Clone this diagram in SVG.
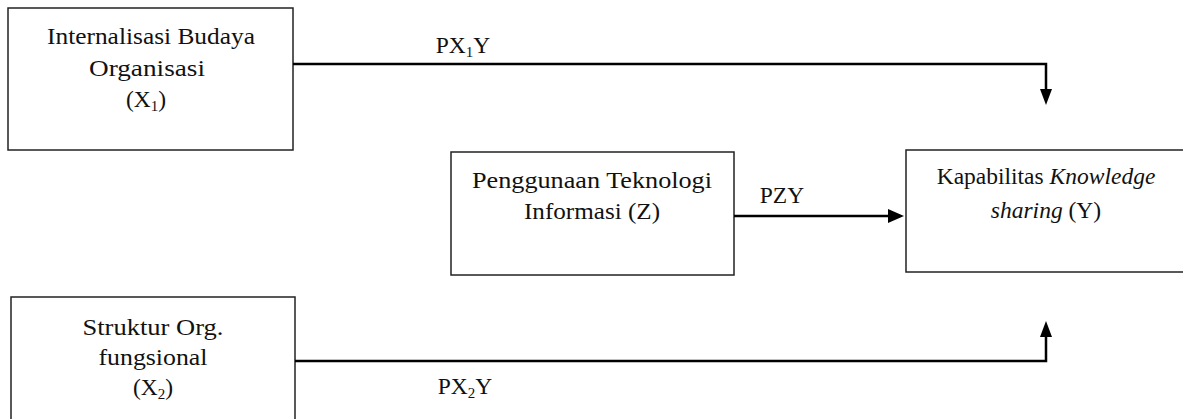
<svg xmlns="http://www.w3.org/2000/svg" width="1183" height="419" viewBox="0 0 1183 419">
  <style>
    .box { fill: #ffffff; stroke: #222222; stroke-width: 1.5; }
    .lbl { font-family: "Liberation Serif", "DejaVu Serif", serif; font-size: 23.5px; fill: #111111; text-anchor: middle; }
    .edge { fill: none; stroke: #000000; stroke-width: 2.5; }
    .sub { font-size: 15px; }
    .it { font-style: italic; }
  </style>

  <rect width="1183" height="419" fill="#ffffff"/>

  <!-- Independent variable X1 -->
  <g id="node-x1">
    <rect class="box" x="8" y="8" width="285" height="142"/>
    <text class="lbl" x="151" y="44" textLength="208" lengthAdjust="spacingAndGlyphs">Internalisasi Budaya</text>
    <text class="lbl" x="147" y="76" textLength="116" lengthAdjust="spacingAndGlyphs">Organisasi</text>
    <text class="lbl" x="146" y="107">(X<tspan class="sub" dy="4">1</tspan><tspan dy="-4">)</tspan></text>
  </g>

  <!-- Independent variable X2 -->
  <g id="node-x2">
    <rect class="box" x="11" y="297" width="284" height="140"/>
    <text class="lbl" x="153" y="335" textLength="141" lengthAdjust="spacingAndGlyphs">Struktur Org.</text>
    <text class="lbl" x="153" y="365" textLength="109" lengthAdjust="spacingAndGlyphs">fungsional</text>
    <text class="lbl" x="153" y="395">(X<tspan class="sub" dy="4">2</tspan><tspan dy="-4">)</tspan></text>
  </g>

  <!-- Intervening variable Z -->
  <g id="node-z">
    <rect class="box" x="451" y="152" width="283" height="123"/>
    <text class="lbl" x="592" y="188" textLength="240" lengthAdjust="spacingAndGlyphs">Penggunaan Teknologi</text>
    <text class="lbl" x="592" y="219" textLength="136" lengthAdjust="spacingAndGlyphs">Informasi (Z)</text>
  </g>

  <!-- Dependent variable Y -->
  <g id="node-y">
    <rect class="box" x="906" y="150" width="290" height="122"/>
    <text class="lbl" x="1046" y="184">Kapabilitas <tspan class="it">Knowledge</tspan></text>
    <text class="lbl" x="1046" y="218"><tspan class="it">sharing</tspan> (Y)</text>
  </g>

  <!-- Path connectors -->
  <g id="connectors">
    <path class="edge" d="M293,64 H1046 V92"/>
    <polygon points="1040,89 1052,89 1046,105" fill="#000000"/>
    <path class="edge" d="M295,361 H1046 V335"/>
    <polygon points="1040,337 1052,337 1046,321" fill="#000000"/>
    <path class="edge" d="M734,216 H890"/>
    <polygon points="888,209 888,223 904,216" fill="#000000"/>

    <text class="lbl" x="463" y="53">PX<tspan class="sub" dy="4">1</tspan><tspan dy="-4">Y</tspan></text>
    <text class="lbl" x="465" y="394">PX<tspan class="sub" dy="4">2</tspan><tspan dy="-4">Y</tspan></text>
    <text class="lbl" x="782" y="203">PZY</text>
  </g>
</svg>
